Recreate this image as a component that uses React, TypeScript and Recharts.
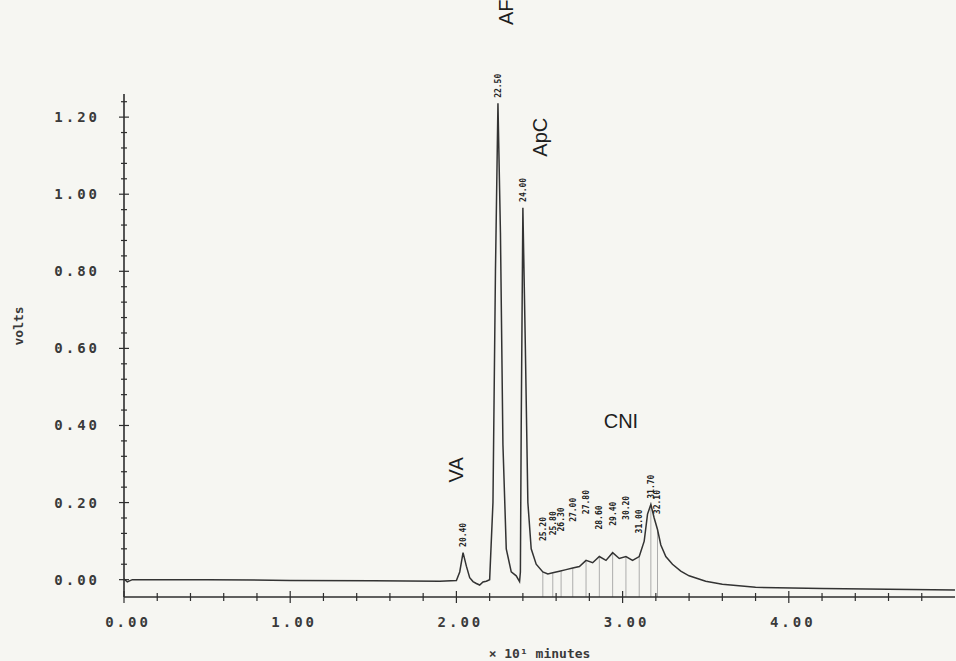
import { LineChart, Line, XAxis, YAxis, ReferenceDot, ReferenceLine } from "recharts";

// detector trace, time in units of 10 min
const minutes = [
  0.0, 0.02, 0.05, 0.5, 1.0, 1.5, 1.9, 2.0, 2.02, 2.04, 2.06, 2.08, 2.1, 2.12, 2.14, 2.16,
  2.18, 2.2, 2.22, 2.235, 2.25, 2.265, 2.28, 2.3, 2.33, 2.36, 2.38, 2.385, 2.39, 2.4, 2.415,
  2.43, 2.45, 2.48, 2.52, 2.55, 2.58, 2.62, 2.66, 2.7, 2.74, 2.78, 2.82, 2.86, 2.9, 2.94,
  2.98, 3.02, 3.06, 3.1, 3.13, 3.15, 3.17, 3.19, 3.21, 3.23, 3.26, 3.3, 3.35, 3.4, 3.5, 3.6,
  3.8, 4.2, 4.6, 5.0,
];
const volts = [
  0.002, -0.006, 0.0, 0.0, -0.002, -0.003, -0.004, -0.002, 0.02, 0.07, 0.035, 0.005, -0.005,
  -0.01, -0.014, -0.006, -0.004, 0.0, 0.2, 0.8, 1.236, 0.9, 0.35, 0.08, 0.02, 0.01, -0.005,
  0.02, 0.4, 0.965, 0.6, 0.2, 0.08, 0.04, 0.02, 0.015, 0.018, 0.022, 0.026, 0.03, 0.034, 0.05,
  0.044, 0.06, 0.05, 0.07, 0.055, 0.06, 0.05, 0.06, 0.1, 0.17, 0.195, 0.16, 0.13, 0.09, 0.06,
  0.04, 0.022, 0.01, -0.004, -0.012, -0.02, -0.023, -0.025, -0.027,
];

// integrated peaks: retention time, apex height, height where the time is printed
const peakTimes = [2.04, 2.25, 2.4, 2.52, 2.58, 2.63, 2.7, 2.78, 2.86, 2.94, 3.02, 3.1, 3.17, 3.21];
const peakVolts = [0.07, 1.236, 0.965, 0.02, 0.018, 0.022, 0.03, 0.05, 0.06, 0.07, 0.06, 0.06, 0.195, 0.13];
const printVolts = [0.085, 1.25, 0.98, 0.1, 0.115, 0.125, 0.15, 0.17, 0.13, 0.14, 0.155, 0.12, 0.21, 0.17];

const compoundNames = ["VA", "AF", "ApC", "CNI"];
const compoundTimes = [1.998, 2.298, 2.503, 2.99];
const compoundVolts = [0.285, 1.472, 1.148, 0.412];
const compoundRotated = [true, true, true, false];

const yTicks = [
  0, 0.04, 0.08, 0.12, 0.16, 0.2, 0.24, 0.28, 0.32, 0.36, 0.4, 0.44, 0.48, 0.52, 0.56, 0.6,
  0.64, 0.68, 0.72, 0.76, 0.8, 0.84, 0.88, 0.92, 0.96, 1.0, 1.04, 1.08, 1.12, 1.16, 1.2, 1.24,
];
const yLabels = [0, 0.2, 0.4, 0.6, 0.8, 1.0, 1.2];
const xTicks = [
  0, 0.2, 0.4, 0.6, 0.8, 1.0, 1.2, 1.4, 1.6, 1.8, 2.0, 2.2, 2.4, 2.6, 2.8, 3.0, 3.2, 3.4, 3.6,
  3.8, 4.0, 4.2, 4.4, 4.6, 4.8,
];
const xLabels = [0, 1, 2, 3, 4];

const data = minutes.map((t, i) => ({ t, v: volts[i] }));

const INK = "#2e2e2e";
const MONO = "'DejaVu Sans Mono', monospace";
const SANS = "'Liberation Sans', Arial, sans-serif";

const isLabel = (list: number[], v: number) => list.some((l) => Math.abs(l - v) < 1e-6);

function YTick({ x, y, payload }: any) {
  const major = isLabel(yLabels, payload.value);
  const half = major ? 5 : 3;
  return (
    <g>
      <line x1={x - half} x2={x + half} y1={y} y2={y} stroke={INK} strokeWidth={1.2} />
      {major && (
        <text x={x - 24} y={y} dy={5} textAnchor="end" fontSize={14} fontFamily={MONO}
          fontWeight="bold" letterSpacing={3} fill="#3a3a3a">
          {payload.value.toFixed(2)}
        </text>
      )}
    </g>
  );
}

function XTick({ x, y, payload }: any) {
  const major = isLabel(xLabels, payload.value);
  const half = major ? 6 : 4;
  return (
    <g>
      <line x1={x} x2={x} y1={y - half} y2={y + half} stroke={INK} strokeWidth={1.2} />
      {major && (
        <text x={x + 4} y={y + 30} textAnchor="middle" fontSize={14} fontFamily={MONO}
          fontWeight="bold" letterSpacing={3} fill="#3a3a3a">
          {payload.value.toFixed(2)}
        </text>
      )}
    </g>
  );
}

function RetentionText(props: any) {
  const { cx, cy, label } = props;
  return (
    <text x={cx} y={cy} dy={3} transform={`rotate(-90 ${cx} ${cy})`} fontSize={8}
      fontFamily={MONO} fontWeight="bold" fill="#222">
      {label}
    </text>
  );
}

export default function App() {
  return (
    <div style={{ position: "absolute", left: 0, top: 0, width: 956, height: 661, background: "#f6f6f2", overflow: "hidden" }}>
      <LineChart width={956} height={661} data={data}
        margin={{ top: 94, right: 1, left: 14, bottom: 0 }}>
        <XAxis dataKey="t" type="number" domain={[0, 5]} ticks={xTicks} interval={0}
          tick={<XTick />} tickLine={false} tickSize={0} tickMargin={0} height={64}
          axisLine={{ stroke: INK, strokeWidth: 1.6 }}
          label={{ value: "× 10¹ minutes", position: "insideBottom", offset: 3,
            style: { fontFamily: MONO, fontSize: 13, fontWeight: "bold", fill: "#3a3a3a" } }} />
        <YAxis type="number" domain={[-0.045, 1.26]} ticks={yTicks} interval={0}
          tick={<YTick />} tickLine={false} tickSize={0} tickMargin={0} width={110}
          axisLine={{ stroke: INK, strokeWidth: 1.6 }}
          label={{ value: "volts", angle: -90, position: "insideLeft", offset: 4,
            style: { fontFamily: MONO, fontSize: 13, fontWeight: "bold", fill: "#3a3a3a" } }} />
        {peakTimes.slice(3).map((t, i) => (
          <ReferenceLine key={`drop-${t}`} ifOverflow="visible" stroke="#9a9a9a" strokeWidth={0.8}
            segment={[{ x: t, y: -0.045 }, { x: t, y: peakVolts[i + 3] }]} />
        ))}
        <Line type="linear" dataKey="v" stroke="#333" strokeWidth={1.5} dot={false}
          isAnimationActive={false} />
        {peakTimes.map((t, i) => (
          <ReferenceDot key={`rt-${t}`} x={t} y={printVolts[i]} r={0} ifOverflow="visible"
            shape={(p: any) => <RetentionText {...p} label={(t * 10).toFixed(2)} />} />
        ))}
        {compoundNames.map((name, i) => (
          <ReferenceDot key={name} x={compoundTimes[i]} y={compoundVolts[i]} r={0} ifOverflow="visible"
            shape={(p: any) => (
              <text x={p.cx} y={p.cy} textAnchor="middle" dominantBaseline="central"
                transform={compoundRotated[i] ? `rotate(-90 ${p.cx} ${p.cy})` : undefined}
                fontSize={20} fontFamily={SANS} fill="#1e1e1e">
                {name}
              </text>
            )} />
        ))}
      </LineChart>
    </div>
  );
}
